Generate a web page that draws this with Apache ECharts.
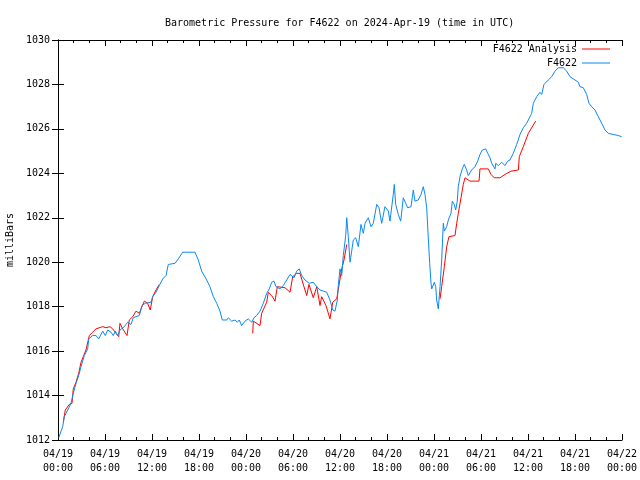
<!DOCTYPE html>
<html>
<head>
<meta charset="utf-8">
<script src="https://cdn.jsdelivr.net/npm/echarts@6/dist/echarts.min.js"></script>
<style>html,body{margin:0;padding:0;background:#fff;}#c{width:640px;height:480px;}</style>
</head>
<body>
<div id="c"></div>
<script>
// Hours since 2024-04-19 00:00 UTC
const xTickLabels = ['04/19\n00:00','04/19\n06:00','04/19\n12:00','04/19\n18:00','04/20\n00:00','04/20\n06:00','04/20\n12:00','04/20\n18:00','04/21\n00:00','04/21\n06:00','04/21\n12:00','04/21\n18:00','04/22\n00:00'];

const blueHours = [0.09,0.6,0.8,1.24,1.66,1.95,2.3,2.64,2.94,3.36,3.79,3.92,4.43,4.85,5.2,5.71,6.04,6.34,6.77,7.06,7.31,7.62,7.91,8.46,8.9,9.32,9.61,9.96,10.38,10.72,11.14,11.87,12.09,12.51,12.93,13.37,13.79,14.08,14.94,15.36,15.92,17.49,17.91,18.34,18.98,19.4,19.83,20.26,20.68,20.97,21.54,21.74,22.17,22.6,22.89,23.14,23.45,23.87,24.29,24.73,25.02,25.36,25.79,26.21,26.64,26.97,27.28,27.57,27.83,28.34,28.76,29.2,29.62,30.13,30.47,30.8,31.11,31.53,32.08,32.59,33.03,33.45,33.87,34.3,34.72,35.07,35.36,35.66,35.78,36.0,36.22,36.42,36.73,36.86,37.06,37.28,37.7,38.0,38.34,38.68,38.98,39.19,39.61,39.96,40.25,40.69,40.98,41.32,41.74,42.17,42.38,42.8,42.93,43.11,43.44,43.75,44.08,44.39,44.64,45.06,45.36,45.57,45.99,46.34,46.63,46.85,47.07,47.27,47.45,47.62,47.71,47.91,48.04,48.22,48.34,48.55,48.77,48.98,49.19,49.32,49.62,49.83,50.17,50.34,50.59,50.77,50.97,51.1,51.32,51.61,51.87,52.17,52.38,52.81,53.23,53.58,53.87,54.17,54.6,54.86,55.15,55.37,55.79,55.88,56.21,56.64,57.06,57.41,57.7,58.12,58.56,58.98,59.4,59.83,60.04,60.47,60.68,61.11,61.53,61.75,62.04,62.59,63.03,63.45,63.87,64.51,64.94,65.36,66.0,66.42,66.64,67.06,67.49,67.79,68.13,68.55,68.98,69.41,69.83,70.25,70.89,71.53,71.96];
const bluePressure = [1012.1,1012.6,1013.05,1013.35,1013.65,1014.1,1014.55,1014.9,1015.3,1015.8,1016.1,1016.55,1016.7,1016.7,1016.55,1016.9,1016.7,1016.95,1016.85,1016.7,1016.9,1016.7,1016.95,1017.1,1017.3,1017.2,1017.5,1017.55,1017.6,1018.05,1018.15,1018.2,1018.45,1018.65,1018.95,1019.25,1019.4,1019.9,1019.95,1020.15,1020.45,1020.45,1020.1,1019.6,1019.2,1018.9,1018.45,1018.15,1017.8,1017.4,1017.4,1017.5,1017.35,1017.4,1017.3,1017.4,1017.15,1017.35,1017.45,1017.3,1017.5,1017.6,1017.8,1018.15,1018.6,1018.8,1019.1,1019.15,1018.9,1018.8,1018.95,1019.2,1019.45,1019.3,1019.6,1019.7,1019.4,1019.2,1019.05,1019.1,1018.9,1018.75,1018.7,1018.65,1018.3,1017.85,1017.8,1018.3,1018.95,1019.7,1019.4,1020.3,1021.2,1022.0,1021.15,1020.0,1021.0,1021.1,1020.7,1021.7,1021.3,1021.75,1022.0,1021.6,1021.75,1022.6,1022.45,1021.75,1022.5,1022.3,1021.85,1023.05,1023.5,1022.6,1022.15,1021.85,1022.9,1022.65,1022.45,1022.5,1023.25,1022.75,1022.8,1023.05,1023.4,1023.05,1022.45,1021.1,1019.95,1019.05,1018.8,1018.8,1019.1,1018.9,1018.3,1017.9,1018.9,1020.1,1021.75,1021.4,1021.6,1021.9,1022.2,1022.75,1022.6,1022.35,1022.75,1023.4,1023.85,1024.2,1024.4,1024.15,1023.9,1024.15,1024.3,1024.55,1024.85,1025.05,1025.1,1024.9,1024.7,1024.45,1024.2,1024.45,1024.35,1024.5,1024.35,1024.55,1024.6,1024.9,1025.3,1025.75,1026.05,1026.25,1026.4,1026.7,1027.15,1027.45,1027.65,1027.55,1028.0,1028.2,1028.35,1028.6,1028.75,1028.75,1028.6,1028.35,1028.2,1028.1,1027.9,1027.85,1027.55,1027.15,1027.0,1026.85,1026.55,1026.25,1025.95,1025.8,1025.75,1025.7,1025.65];

// '-' marks a gap in the analysis series
const redHours = [0.68,0.93,1.44,1.79,1.95,2.3,2.64,2.94,3.23,3.57,4.0,4.43,4.85,5.71,6.13,6.64,6.98,7.4,7.75,7.91,8.26,8.81,9.1,9.54,9.96,10.38,10.72,11.02,11.45,11.78,12.09,12.51,12.93,18.0,24.86,24.93,25.79,26.0,26.64,26.85,27.28,27.7,28.0,28.98,29.62,29.96,30.47,30.89,31.4,31.75,32.04,32.59,33.03,33.45,33.66,34.21,34.72,35.07,35.58,35.91,36.22,36.51,36.86,42.0,48.77,48.98,49.32,49.62,49.91,50.68,50.9,51.1,51.45,51.74,51.96,52.6,53.75,53.87,54.93,55.28,55.7,56.43,57.06,57.83,58.77,58.89,59.4,60.04,60.98];
const redPressure = [1012.8,1013.35,1013.6,1013.65,1014.3,1014.6,1015.0,1015.5,1015.75,1016.05,1016.7,1016.85,1017.0,1017.1,1017.05,1017.1,1017.0,1016.8,1016.65,1017.25,1017.0,1016.7,1017.4,1017.55,1017.8,1017.7,1018.0,1018.25,1018.15,1017.85,1018.45,1018.75,1019.0,'-',1016.8,1017.35,1017.15,1017.7,1018.2,1018.65,1018.5,1018.25,1018.9,1018.85,1018.65,1019.35,1019.5,1019.5,1018.9,1018.5,1019.0,1018.4,1018.9,1018.05,1018.45,1018.05,1017.45,1018.2,1018.35,1019.05,1019.7,1020.1,1020.8,'-',1018.35,1018.9,1019.8,1020.7,1021.15,1021.2,1021.75,1022.2,1022.9,1023.5,1023.8,1023.65,1023.65,1024.2,1024.2,1023.95,1023.8,1023.8,1023.95,1024.1,1024.15,1024.75,1025.2,1025.8,1026.35];

const seriesNames = ['F4622 Analysis', 'F4622'];
const titleText = 'Barometric Pressure for F4622 on 2024-Apr-19 (time in UTC)';

const FONT = 'DejaVu Sans Mono';
const chart = echarts.init(document.getElementById('c'), null, {renderer: 'canvas'});

const xCommon = {
  type: 'value', min: 0, max: 72, interval: 6,
  axisLine: {show: true, lineStyle: {color: '#000', width: 1}},
  axisTick: {show: true, inside: true, length: 6, lineStyle: {color: '#000'}},
  minorTick: {show: true, splitNumber: 3, length: 3, lineStyle: {color: '#000'}},
  splitLine: {show: false}, minorSplitLine: {show: false}
};
const yCommon = {
  type: 'value', min: 1012, max: 1030, interval: 2,
  axisLine: {show: true, lineStyle: {color: '#000', width: 1}},
  axisTick: {show: true, inside: true, length: 6, lineStyle: {color: '#000'}},
  splitLine: {show: false}
};

chart.setOption({
  animation: false,
  backgroundColor: '#fff',
  title: {
    text: titleText, left: 160, top: 13,
    textStyle: {fontFamily: FONT, fontSize: 10, fontWeight: 'normal', color: '#000'}
  },
  legend: {
    orient: 'vertical', right: 25, top: 38, align: 'right',
    itemWidth: 28, itemHeight: 1, itemGap: 2, icon: 'rect',
    data: seriesNames,
    textStyle: {fontFamily: FONT, fontSize: 10, color: '#000', lineHeight: 12}
  },
  grid: {left: 58, right: 18, top: 40, bottom: 40, containLabel: false, outerBoundsMode: 'none'},
  xAxis: [
    Object.assign({}, xCommon, {
      position: 'bottom',
      axisLabel: {
        margin: 7, fontFamily: FONT, fontSize: 10, color: '#000', lineHeight: 14,
        formatter: function (v) { return xTickLabels[Math.round(v / 6)]; }
      }
    }),
    Object.assign({}, xCommon, {position: 'top', axisLabel: {show: false}})
  ],
  yAxis: [
    Object.assign({}, yCommon, {
      position: 'left',
      name: 'milliBars', nameLocation: 'middle', nameGap: 42, nameRotate: 90,
      nameTextStyle: {fontFamily: FONT, fontSize: 10, color: '#000'},
      axisLabel: {margin: 8, fontFamily: FONT, fontSize: 10, color: '#000',
        formatter: function (v) { return String(v); }}
    }),
    Object.assign({}, yCommon, {position: 'right', axisLabel: {show: false}})
  ],
  series: [
    {
      name: seriesNames[0], type: 'line', xAxisIndex: 0, yAxisIndex: 0,
      showSymbol: false, connectNulls: false,
      lineStyle: {color: '#ff0000', width: 1}, itemStyle: {color: '#ff0000'},
      data: redHours.map((h, i) => [h, redPressure[i]])
    },
    {
      name: seriesNames[1], type: 'line', xAxisIndex: 0, yAxisIndex: 0,
      showSymbol: false,
      lineStyle: {color: '#0a88f5', width: 1}, itemStyle: {color: '#0a88f5'},
      data: blueHours.map((h, i) => [h, bluePressure[i]])
    }
  ]
});
</script>
</body>
</html>
